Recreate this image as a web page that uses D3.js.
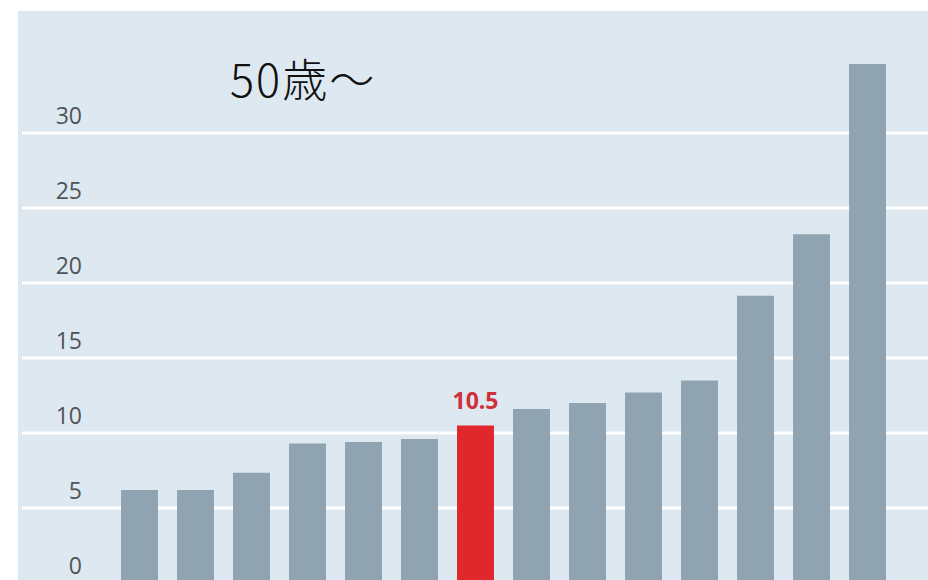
<!DOCTYPE html>
<html>
<head>
<meta charset="utf-8">
<script src="https://cdn.jsdelivr.net/npm/d3@7"></script>
<style>
  html, body { margin: 0; padding: 0; background: #ffffff; }
  svg { display: block; }
</style>
</head>
<body>
<svg id="chart" width="928" height="580"></svg>
<script>
// Chart data
const title = "50歳～";
const categories = ["1", "2", "3", "4", "5", "6", "7", "8", "9", "10", "11", "12", "13", "14"];
const values = [6.2, 6.2, 7.35, 9.3, 9.4, 9.6, 10.5, 11.6, 12.0, 12.7, 13.5, 19.15, 23.25, 34.6];
const highlightIndex = 6;
const yTicks = [0, 5, 10, 15, 20, 25, 30];

const svg = d3.select("#chart");
const W = 928, H = 580;

// Panel background
svg.append("rect")
  .attr("x", 18).attr("y", 11)
  .attr("width", W - 18).attr("height", H - 11)
  .attr("fill", "#dde8f0");

const x = d3.scaleBand()
  .domain(categories)
  .range([121, 886])
  .paddingInner(0.34)
  .paddingOuter(0);

const y = d3.scaleLinear()
  .domain([0, 35])
  .range([583, 58]);

// Grid lines with labels sitting above each line
const grid = svg.append("g");
grid.selectAll("line")
  .data(yTicks)
  .join("line")
  .attr("x1", 22).attr("x2", W)
  .attr("y1", d => y(d)).attr("y2", d => y(d))
  .attr("stroke", "#ffffff")
  .attr("stroke-width", 3);

grid.selectAll("text")
  .data(yTicks)
  .join("text")
  .attr("x", 82)
  .attr("y", d => y(d) - 9)
  .attr("text-anchor", "end")
  .attr("font-family", "'Open Sans', 'Noto Sans', sans-serif")
  .attr("font-size", 23)
  .attr("fill", "#505458")
  .text(d => d);

// Bars
svg.append("g").selectAll("rect")
  .data(values)
  .join("rect")
  .attr("x", (d, i) => x(categories[i]))
  .attr("y", d => y(d))
  .attr("width", x.bandwidth())
  .attr("height", d => y(0) - y(d))
  .attr("fill", (d, i) => i === highlightIndex ? "#e0282c" : "#8fa3b0");

// Value label on highlighted bar
svg.append("text")
  .attr("x", x(categories[highlightIndex]) + x.bandwidth() / 2)
  .attr("y", y(values[highlightIndex]) - 17)
  .attr("text-anchor", "middle")
  .attr("font-family", "'Open Sans', 'Noto Sans', sans-serif")
  .attr("font-weight", 700)
  .attr("font-size", 23)
  .attr("fill", "#d0303a")
  .text(values[highlightIndex]);

// Title
svg.append("text")
  .attr("x", 230)
  .attr("y", 97)
  .attr("font-family", "'Noto Sans CJK JP', sans-serif")
  .attr("font-weight", 300)
  .attr("font-size", 45)
  .attr("letter-spacing", 2)
  .attr("fill", "#111111")
  .text(title);
</script>
</body>
</html>
